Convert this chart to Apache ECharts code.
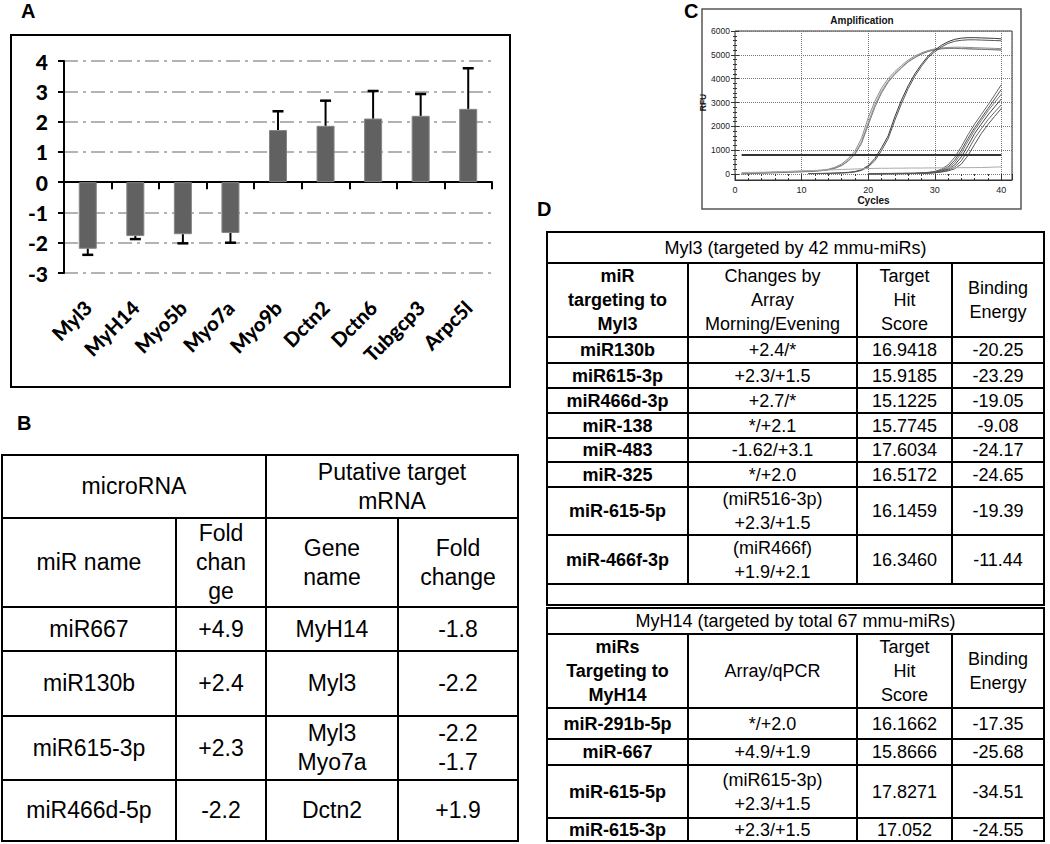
<!DOCTYPE html>
<html><head><meta charset="utf-8">
<script src="https://cdn.jsdelivr.net/npm/echarts@6/dist/echarts.min.js"></script>
<style>
body{margin:0;background:#fff;width:1050px;height:844px;position:relative;overflow:hidden;font-family:'Liberation Sans',Arial,sans-serif}
#chart{position:absolute;left:0;top:0;width:1050px;height:844px}
.lbl{position:absolute;font:bold 20px 'Liberation Sans',Arial,sans-serif;line-height:20px;color:#000}
.cell{position:absolute;box-sizing:border-box;border:2px solid #000;display:flex;align-items:center;justify-content:center;text-align:center;white-space:pre;color:#000;font-family:'Liberation Sans',Arial,sans-serif}
.tb .cell{font-size:23px;line-height:29px}
.td .cell{font-size:18px;line-height:24px}
</style></head><body>
<div id="chart"></div>
<div class="lbl" style="left:21px;top:1px">A</div>
<div class="lbl" style="left:17px;top:413px">B</div>
<div class="lbl" style="left:684px;top:1px">C</div>
<div class="lbl" style="left:537px;top:199px">D</div>
<div id="tb" class="tb"></div>
<div id="td" class="td"></div>
<script>
// ---------- Panel A data ----------
const categories = ['Myl3','MyH14','Myo5b','Myo7a','Myo9b','Dctn2','Dctn6','Tubgcp3','Arpc5l'];
const foldValues = [-2.2, -1.78, -1.72, -1.68, 1.72, 1.86, 2.1, 2.19, 2.42];
const foldErrors = [0.2, 0.1, 0.3, 0.32, 0.62, 0.83, 0.91, 0.72, 1.34];
const yTicksA = [-3, 4, 1]; // min, max, step

// ---------- Panel C data (RFU per cycle) ----------
const cycles = [1,2,3,4,5,6,7,8,9,10,11,12,13,14,15,16,17,18,19,20,21,22,23,24,25,26,27,28,29,30,31,32,33,34,35,36,37,38,39,40];
const N = null;
const g1a = [30,40,50,60,70,80,90,100,110,120,130,140,160,200,280,420,640,950,1500,2350,3050,3600,4000,4300,4550,4780,4950,5080,5180,5250,5290,5310,5320,5320,5310,5300,5290,5280,5270,5260];
const g1b = [10,20,30,40,50,60,70,80,90,100,110,125,145,180,250,370,570,860,1350,2150,2900,3480,3900,4220,4480,4720,4900,5040,5150,5220,5260,5280,5280,5270,5260,5250,5240,5230,5220,5210];
const g1c = [0,10,20,30,40,50,60,70,80,90,100,115,140,175,240,350,540,820,1280,2050,2800,3400,3850,4180,4450,4700,4880,5030,5140,5210,5250,5270,5270,5260,5250,5240,5230,5220,5210,5200];
const g2a = [N,N,N,N,N,N,N,N,N,N,20,20,25,30,40,50,70,100,180,350,650,1100,1600,2400,3100,3700,4200,4600,4950,5200,5400,5550,5650,5700,5720,5720,5710,5700,5690,5670];
const g2b = [N,N,N,N,N,N,N,N,N,N,15,15,20,25,30,40,55,85,150,300,560,980,1480,2250,2950,3580,4100,4520,4880,5130,5330,5480,5570,5610,5630,5630,5620,5610,5600,5590];
const g3a = [N,N,N,N,N,N,N,N,N,N,N,N,N,N,N,N,N,N,N,20,20,25,25,25,30,30,35,50,70,110,200,380,700,1150,1650,2100,2500,2900,3320,3750];
const g3b = [N,N,N,N,N,N,N,N,N,N,N,N,N,N,N,N,N,N,N,15,15,20,20,25,25,30,30,40,60,90,160,300,580,1000,1500,1950,2350,2750,3150,3550];
const g3c = [N,N,N,N,N,N,N,N,N,N,N,N,N,N,N,N,N,N,N,10,10,15,15,20,20,25,25,35,50,80,140,250,480,880,1380,1850,2250,2650,3000,3350];
const g3d = [N,N,N,N,N,N,N,N,N,N,N,N,N,N,N,N,N,N,N,10,10,10,15,15,20,20,25,30,45,70,120,200,380,720,1200,1700,2100,2480,2820,3150];
const g3e = [N,N,N,N,N,N,N,N,N,N,N,N,N,N,N,N,N,N,N,5,5,10,10,15,15,20,20,25,40,60,100,160,290,560,1000,1500,1900,2280,2600,2900];
const g3f = [N,N,N,N,N,N,N,N,N,N,N,N,N,N,N,N,N,N,N,5,5,5,10,10,15,15,20,20,30,50,80,130,220,420,780,1250,1700,2080,2420,2750];
const ntc = [60,65,70,75,80,90,100,110,120,130,140,150,160,170,180,190,200,210,220,230,235,240,240,245,245,250,250,250,255,255,260,260,260,265,265,270,270,280,290,300];
const thresholdRFU = 800;
const thresholdCycles = [1, 40];

// ---------- Panel B data ----------
const bHeader1 = ['microRNA', 'Putative target\nmRNA'];
const bHeader2 = ['miR name', 'Fold\nchan\nge', 'Gene\nname', 'Fold\nchange'];
const bMiR = ['miR667','miR130b','miR615-3p','miR466d-5p'];
const bMiRFold = ['+4.9','+2.4','+2.3','-2.2'];
const bGene = ['MyH14','Myl3','Myl3\nMyo7a','Dctn2'];
const bGeneFold = ['-1.8','-2.2','-2.2\n-1.7','+1.9'];

// ---------- Panel D data ----------
const dTitle1 = 'Myl3 (targeted by 42 mmu-miRs)';
const dHeader1 = ['miR\ntargeting to\nMyl3','Changes by\nArray\nMorning/Evening','Target\nHit\nScore','Binding\nEnergy'];
const dMiR1 = ['miR130b','miR615-3p','miR466d-3p','miR-138','miR-483','miR-325','miR-615-5p','miR-466f-3p'];
const dChange1 = ['+2.4/*','+2.3/+1.5','+2.7/*','*/+2.1','-1.62/+3.1','*/+2.0','(miR516-3p)\n+2.3/+1.5','(miR466f)\n+1.9/+2.1'];
const dScore1 = ['16.9418','15.9185','15.1225','15.7745','17.6034','16.5172','16.1459','16.3460'];
const dEnergy1 = ['-20.25','-23.29','-19.05','-9.08','-24.17','-24.65','-19.39','-11.44'];
const dTitle2 = 'MyH14 (targeted by total 67 mmu-miRs)';
const dHeader2 = ['miRs\nTargeting to\nMyH14','Array/qPCR','Target\nHit\nScore','Binding\nEnergy'];
const dMiR2 = ['miR-291b-5p','miR-667','miR-615-5p','miR-615-3p'];
const dChange2 = ['*/+2.0','+4.9/+1.9','(miR615-3p)\n+2.3/+1.5','+2.3/+1.5'];
const dScore2 = ['16.1662','15.8666','17.8271','17.052'];
const dEnergy2 = ['-17.35','-25.68','-34.51','-24.55'];

// ---------- chart ----------
const chart = echarts.init(document.getElementById('chart'), null, {renderer:'svg'});
const curveDefs = [
  [g1a,'#8c8c8c'],[g1b,'#9a9a9a'],[g1c,'#7a7a7a'],
  [g2a,'#3a3a3a'],[g2b,'#555555'],
  [g3a,'#666'],[g3b,'#555'],[g3c,'#777'],[g3d,'#444'],[g3e,'#666'],[g3f,'#555'],
  [ntc,'#aaaaaa']
];
const lineSeries = curveDefs.map(([arr,col]) => ({
  type:'line', xAxisIndex:2, yAxisIndex:1, showSymbol:false, clip:false, silent:true,
  connectNulls:false,
  lineStyle:{color:col,width:1},
  data: cycles.map((c,k)=> arr[k]==null ? null : [c, arr[k]]).filter(d=>d)
}));
lineSeries.push({
  type:'line', xAxisIndex:2, yAxisIndex:1, showSymbol:false, silent:true,
  lineStyle:{color:'#333',width:2},
  data: thresholdCycles.map(c=>[c, thresholdRFU])
});

const smallTick = {inside:true,length:4,lineStyle:{color:'#333',width:1}};
const smallMinor = {show:true,splitNumber:5,length:2,lineStyle:{color:'#333',width:1}};
const plain = v => String(v);

const option = {
  animation:false,
  grid:[
    {left:64, top:61, width:428, height:212},
    {left:735, top:31, width:277, height:143}
  ],
  xAxis:[
    {gridIndex:0,type:'category',data:categories,position:'bottom',
     axisLine:{onZero:true,lineStyle:{color:'#000',width:2}},
     axisTick:{show:true,length:7,inside:false,interval:0,lineStyle:{color:'#000',width:2}},
     axisLabel:{show:false},splitLine:{show:false}},
    {gridIndex:0,type:'category',data:categories,position:'bottom',
     axisLine:{show:false,onZero:false},axisTick:{show:false},
     axisLabel:{rotate:45,margin:31,interval:0,fontFamily:'Lato',fontWeight:900,fontSize:20,color:'#000'}},
    {gridIndex:1,type:'value',min:0,max:41.6,interval:10,position:'bottom',offset:6,
     axisLine:{show:true,onZero:false,lineStyle:{color:'#333'}},
     axisTick:smallTick, minorTick:smallMinor,
     axisLabel:{fontSize:9,color:'#222',margin:5,showMaxLabel:false,fontFamily:'Liberation Sans',formatter:plain},
     splitLine:{show:true,lineStyle:{type:'dotted',color:'#777',width:1}},
     name:'Cycles',nameLocation:'middle',nameGap:15,
     nameTextStyle:{fontSize:10,fontWeight:'bold',color:'#111',fontFamily:'Liberation Sans'}},
    {gridIndex:1,type:'value',min:0,max:41.6,interval:10,position:'top',
     axisLine:{show:false},axisTick:smallTick,minorTick:smallMinor,
     axisLabel:{show:false},splitLine:{show:false}}
  ],
  yAxis:[
    {gridIndex:0,type:'value',min:yTicksA[0],max:yTicksA[1],interval:yTicksA[2],
     axisLine:{show:true,onZero:false,lineStyle:{color:'#000',width:2}},
     axisTick:{show:true,length:6,lineStyle:{color:'#000',width:2}},
     axisLabel:{fontFamily:'Lato',fontWeight:900,fontSize:21,color:'#000',margin:16},
     splitLine:{show:true,lineStyle:{type:[14,5,3,5],color:'#9a9a9a',width:1.5}}},
    {gridIndex:1,type:'value',min:0,max:6000,interval:1000,
     axisLine:{show:false},axisTick:smallTick,minorTick:smallMinor,
     axisLabel:{fontSize:8.5,color:'#222',margin:5,fontFamily:'Liberation Sans',formatter:plain},
     splitLine:{show:true,lineStyle:{type:'dotted',color:'#777',width:1}},
     name:'RFU',nameLocation:'middle',nameGap:25,nameRotate:90,
     nameTextStyle:{fontSize:8.5,fontWeight:'bold',color:'#111',fontFamily:'Liberation Sans'}},
    {gridIndex:1,type:'value',min:0,max:6000,interval:1000,position:'right',
     axisLine:{show:false},axisTick:smallTick,minorTick:smallMinor,
     axisLabel:{show:false},splitLine:{show:false}}
  ],
  graphic:[
    {type:'rect',silent:true,shape:{x:11,y:35,width:499,height:352},style:{fill:'none',stroke:'#000',lineWidth:2}},
    {type:'rect',silent:true,shape:{x:702,y:9,width:319,height:200},style:{fill:'none',stroke:'#555',lineWidth:1.5}},
    {type:'rect',silent:true,shape:{x:735,y:31,width:277,height:149},style:{fill:'none',stroke:'#333',lineWidth:1}},
    {type:'text',silent:true,x:862,y:20,style:{text:'Amplification',font:'bold 10px "Liberation Sans", Arial',fill:'#111',align:'center',verticalAlign:'middle'}}
  ],
  series:[
    {type:'bar',xAxisIndex:0,yAxisIndex:0,data:foldValues,barWidth:18,
     itemStyle:{color:'#616161',borderColor:'#858585',borderWidth:1}},
    {type:'custom',xAxisIndex:0,yAxisIndex:0,z:5,
     data: foldValues.map((v,i)=>[i,v,foldErrors[i]]),
     encode:{x:0,y:1},
     renderItem:function(params,api){
       const i=api.value(0), v=api.value(1), e=api.value(2);
       const end = v + (v<0 ? -e : e);
       const p0=api.coord([i,v]), p1=api.coord([i,end]);
       const hw=5.5;
       return {type:'group',children:[
         {type:'line',shape:{x1:p0[0],y1:p0[1],x2:p1[0],y2:p1[1]},style:{stroke:'#000',lineWidth:2}},
         {type:'line',shape:{x1:p1[0]-hw,y1:p1[1],x2:p1[0]+hw,y2:p1[1]},style:{stroke:'#000',lineWidth:2.5}}
       ]};
     }}
  ].concat(lineSeries)
};
chart.setOption(option);

// ---------- tables ----------
function cell(host,x0,y0,x1,y1,text,style){
  const d=document.createElement('div');
  d.className='cell';
  d.style.left=x0+'px'; d.style.top=y0+'px';
  d.style.width=(x1-x0+2)+'px'; d.style.height=(y1-y0+2)+'px';
  d.textContent=text;
  if(style) Object.assign(d.style,style);
  host.appendChild(d);
}
// Table B
(function(){
  const host=document.getElementById('tb');
  const xs=[1,175,265,397,517];
  const ys=[454,517,606,650,715,779,840];
  cell(host,xs[0],ys[0],xs[2],ys[1],bHeader1[0]);
  cell(host,xs[2],ys[0],xs[4],ys[1],bHeader1[1]);
  bHeader2.forEach((t,c)=>cell(host,xs[c],ys[1],xs[c+1],ys[2],t));
  for(let r=0;r<bMiR.length;r++){
    const row=[bMiR[r],bMiRFold[r],bGene[r],bGeneFold[r]];
    row.forEach((t,c)=>cell(host,xs[c],ys[r+2],xs[c+1],ys[r+3],t));
  }
})();
// Table D
(function(){
  const host=document.getElementById('td');
  const xs=[546,687,856,951,1043];
  const ys1=[231,262,336,362,387,412,437,461,486,534,583];
  cell(host,xs[0],ys1[0],xs[4],ys1[1],dTitle1);
  dHeader1.forEach((t,c)=>cell(host,xs[c],ys1[1],xs[c+1],ys1[2],t,c===0?{fontWeight:'bold'}:null));
  for(let r=0;r<dMiR1.length;r++){
    const row=[dMiR1[r],dChange1[r],dScore1[r],dEnergy1[r]];
    row.forEach((t,c)=>cell(host,xs[c],ys1[r+2],xs[c+1],ys1[r+3],t,c===0?{fontWeight:'bold'}:null));
  }
  cell(host,xs[0],583,xs[4],604,'');
  const ys2=[607,633,707,738,764,817,840];
  cell(host,xs[0],ys2[0],xs[4],ys2[1],dTitle2);
  dHeader2.forEach((t,c)=>cell(host,xs[c],ys2[1],xs[c+1],ys2[2],t,c===0?{fontWeight:'bold'}:null));
  for(let r=0;r<dMiR2.length;r++){
    const row=[dMiR2[r],dChange2[r],dScore2[r],dEnergy2[r]];
    row.forEach((t,c)=>cell(host,xs[c],ys2[r+2],xs[c+1],ys2[r+3],t,c===0?{fontWeight:'bold'}:null));
  }
})();
</script>
</body></html>
